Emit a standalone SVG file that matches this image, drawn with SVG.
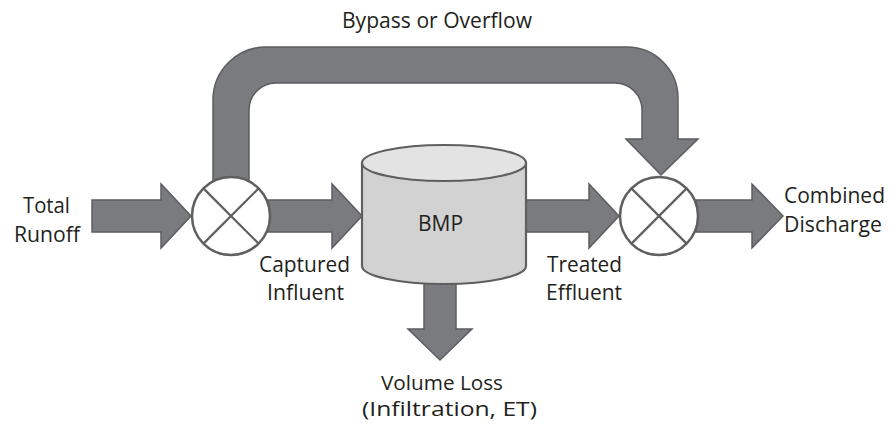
<svg xmlns="http://www.w3.org/2000/svg" width="891" height="424" viewBox="0 0 891 424">
<style>
.arrow{fill:#7a7b7e;stroke:#5c5d60;stroke-width:1.5;stroke-linejoin:miter}
.mix{fill:#ffffff;stroke:#5f5f5f;stroke-width:2.5}
.xl{stroke:#5f5f5f;stroke-width:2.2}
.cyl{fill:#d2d2d3;stroke:#5f5f5f;stroke-width:2.2}
.cyltop{fill:#e3e3e4;stroke:#5f5f5f;stroke-width:2.2}
text{font-family:"Open Sans","Noto Sans","DejaVu Sans",sans-serif;font-size:22px;fill:#231f20}
.sm{font-size:20px}
</style>
<rect width="891" height="424" fill="#ffffff"/>
<g id="connectors">
<path id="bypass" class="arrow" d="M213,200 V100 A53,53 0 0 1 266,47 H627 A51,51 0 0 1 678,98 V139 H698 L661,175 L626,139 H642 V110 A27,27 0 0 0 615,83 H276 A27,27 0 0 0 249,110 V200 Z"/>
<path id="total-runoff" class="arrow" d="M92,200 H161 V184 L191,216 L161,248 V232 H92 Z"/>
<path id="captured-influent" class="arrow" d="M268,200 H332 V184 L362,216 L332,248 V232 H268 Z"/>
<path id="treated-effluent" class="arrow" d="M520,200 H589 V184 L619,216 L589,248 V232 H520 Z"/>
<path id="combined-discharge" class="arrow" d="M696,200 H752 V184 L783,216 L752,248 V232 H696 Z"/>
<path id="volume-loss" class="arrow" d="M424,270 V329 H408 L440,360 L472,329 H456 V270 Z"/>
</g>
<g id="mixer-left">
<circle class="mix" cx="231" cy="216" r="39"/>
<line class="xl" x1="203.4" y1="188.4" x2="258.6" y2="243.6"/>
<line class="xl" x1="258.6" y1="188.4" x2="203.4" y2="243.6"/>
</g>
<g id="mixer-right">
<circle class="mix" cx="659" cy="216" r="39"/>
<line class="xl" x1="631.4" y1="188.4" x2="686.6" y2="243.6"/>
<line class="xl" x1="686.6" y1="188.4" x2="631.4" y2="243.6"/>
</g>
<g id="bmp">
<path class="cyl" d="M362,163 V266 A82,18 0 0 0 526,266 V163 Z"/>
<ellipse class="cyltop" cx="444" cy="163" rx="82" ry="18"/>
<text x="440.5" y="231" text-anchor="middle" textLength="45" lengthAdjust="spacingAndGlyphs">BMP</text>
</g>
<g id="labels">
<text x="437" y="28" text-anchor="middle" textLength="190" lengthAdjust="spacingAndGlyphs">Bypass or Overflow</text>
<text x="46.5" y="213" text-anchor="middle" textLength="47" lengthAdjust="spacingAndGlyphs">Total</text>
<text x="47" y="242" text-anchor="middle" textLength="66" lengthAdjust="spacingAndGlyphs">Runoff</text>
<text x="304.5" y="272" text-anchor="middle" textLength="91" lengthAdjust="spacingAndGlyphs">Captured</text>
<text x="305.5" y="300" text-anchor="middle" textLength="77" lengthAdjust="spacingAndGlyphs">Influent</text>
<text x="584.5" y="272" text-anchor="middle" textLength="75" lengthAdjust="spacingAndGlyphs">Treated</text>
<text x="584" y="300" text-anchor="middle" textLength="76" lengthAdjust="spacingAndGlyphs">Effluent</text>
<text x="834.5" y="203" text-anchor="middle" textLength="101" lengthAdjust="spacingAndGlyphs">Combined</text>
<text x="833" y="232" text-anchor="middle" textLength="98" lengthAdjust="spacingAndGlyphs">Discharge</text>
<text class="sm" x="442" y="390" text-anchor="middle" textLength="122" lengthAdjust="spacingAndGlyphs">Volume Loss</text>
<text class="sm" x="449.5" y="416" text-anchor="middle" textLength="175" lengthAdjust="spacingAndGlyphs">(Infiltration, ET)</text>
</g>
</svg>
